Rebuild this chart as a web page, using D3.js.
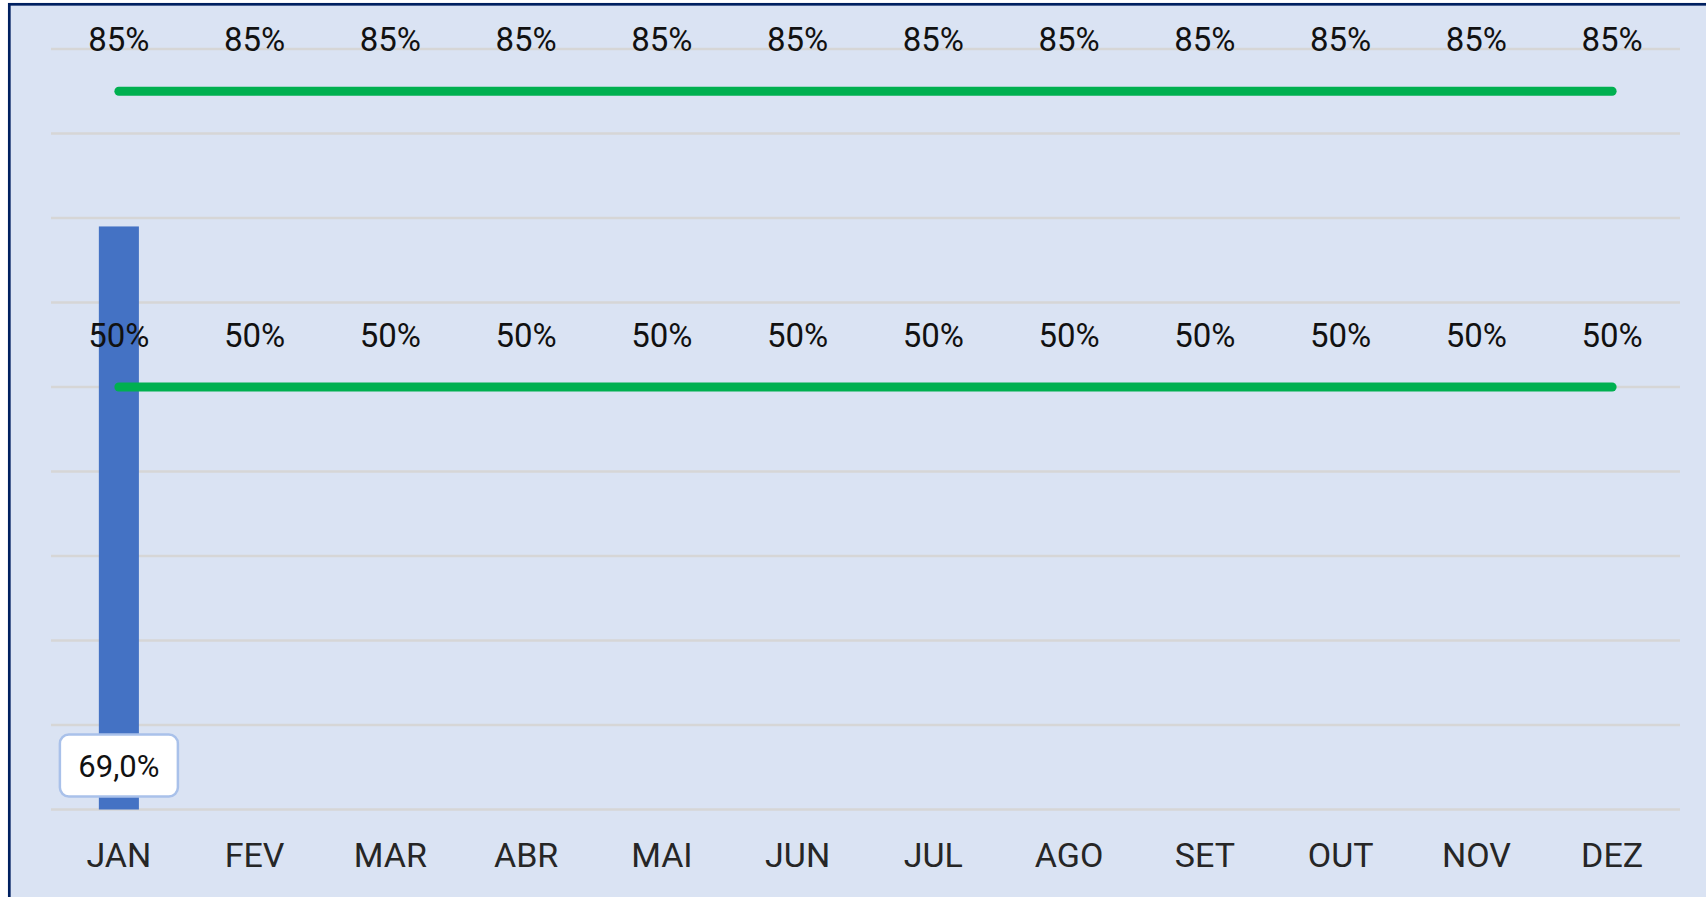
<!DOCTYPE html>
<html>
<head>
  <meta charset="utf-8">
  <title>Realizado x Meta</title>
  <script src="https://cdn.jsdelivr.net/npm/d3@7"></script>
  <style>
    body { margin: 0; background: #ffffff; }
    text { font-family: Roboto, "Liberation Sans", sans-serif; }
  </style>
</head>
<body>
<div id="chart"></div>
<script>
  // data
  var months = ["JAN", "FEV", "MAR", "ABR", "MAI", "JUN", "JUL", "AGO", "SET", "OUT", "NOV", "DEZ"];
  var realizado = [69.0, null, null, null, null, null, null, null, null, null, null, null];
  var metaAlta = [85, 85, 85, 85, 85, 85, 85, 85, 85, 85, 85, 85];
  var metaBaixa = [50, 50, 50, 50, 50, 50, 50, 50, 50, 50, 50, 50];
  var yTicks = [0, 10, 20, 30, 40, 50, 60, 70, 80, 90];

  var W = 1706, H = 897;
  var margin = {top: 49, right: 26, bottom: 87.5, left: 51};

  var ptBR = d3.formatLocale({decimal: ",", thousands: ".", grouping: [3], currency: ["R$", ""]});
  var fmtPct1 = ptBR.format(".1f");

  var svg = d3.select("#chart").append("svg")
    .attr("width", W)
    .attr("height", H);

  // chart area background + navy frame (cut off at right/bottom)
  svg.append("rect")
    .attr("x", 9.3).attr("y", 4.3)
    .attr("width", W + 20).attr("height", H + 20)
    .attr("fill", "#dae3f3")
    .attr("stroke", "#002060")
    .attr("stroke-width", 2.7);

  var x = d3.scaleBand()
    .domain(months)
    .range([margin.left, W - margin.right])
    .paddingInner(0.705)
    .paddingOuter(0.3525);

  var y = d3.scaleLinear()
    .domain([0, 90])
    .range([H - margin.bottom, margin.top]);

  var cx = function(m) { return x(m) + x.bandwidth() / 2; };

  // gridlines
  svg.append("g")
    .selectAll("line")
    .data(yTicks)
    .join("line")
    .attr("x1", margin.left)
    .attr("x2", W - margin.right)
    .attr("y1", function(d) { return y(d); })
    .attr("y2", function(d) { return y(d); })
    .attr("stroke", "#d6d6d6")
    .attr("stroke-width", 2.5);

  // bars
  var barData = months.map(function(m, i) { return {m: m, v: realizado[i]}; })
    .filter(function(d) { return d.v != null; });

  svg.append("g")
    .selectAll("rect")
    .data(barData)
    .join("rect")
    .attr("x", function(d) { return x(d.m); })
    .attr("width", x.bandwidth())
    .attr("y", function(d) { return y(d.v); })
    .attr("height", function(d) { return y(0) - y(d.v); })
    .attr("fill", "#4472c4");

  // target lines
  var line = d3.line()
    .x(function(d) { return cx(d.m); })
    .y(function(d) { return y(d.v); });

  [metaAlta, metaBaixa].forEach(function(serie) {
    var pts = months.map(function(m, i) { return {m: m, v: serie[i]}; });
    svg.append("path")
      .datum(pts)
      .attr("fill", "none")
      .attr("stroke", "#00b050")
      .attr("stroke-width", 9)
      .attr("stroke-linecap", "round")
      .attr("d", line);

    svg.append("g")
      .selectAll("text")
      .data(pts)
      .join("text")
      .attr("x", function(d) { return cx(d.m); })
      .attr("y", function(d) { return y(d.v) - 40.5; })
      .attr("text-anchor", "middle")
      .attr("font-size", 33)
      .attr("fill", "#111111")
      .text(function(d) { return d.v + "%"; });
  });

  // bar value label (inside base, white rounded box)
  var lbl = svg.append("g")
    .selectAll("g")
    .data(barData)
    .join("g")
    .attr("transform", function(d) { return "translate(" + cx(d.m) + "," + (y(0) - 44) + ")"; });

  lbl.append("rect")
    .attr("x", -59).attr("y", -31)
    .attr("width", 118).attr("height", 62)
    .attr("rx", 9)
    .attr("fill", "#ffffff")
    .attr("stroke", "#a9c1ea")
    .attr("stroke-width", 2.5);

  lbl.append("text")
    .attr("text-anchor", "middle")
    .attr("y", 11)
    .attr("font-size", 31)
    .attr("fill", "#111111")
    .text(function(d) { return fmtPct1(d.v) + "%"; });

  // x axis labels
  svg.append("g")
    .selectAll("text")
    .data(months)
    .join("text")
    .attr("x", function(d) { return cx(d); })
    .attr("y", y(0) + 57)
    .attr("text-anchor", "middle")
    .attr("font-size", 34)
    .attr("fill", "#262626")
    .text(function(d) { return d; });
</script>
</body>
</html>
